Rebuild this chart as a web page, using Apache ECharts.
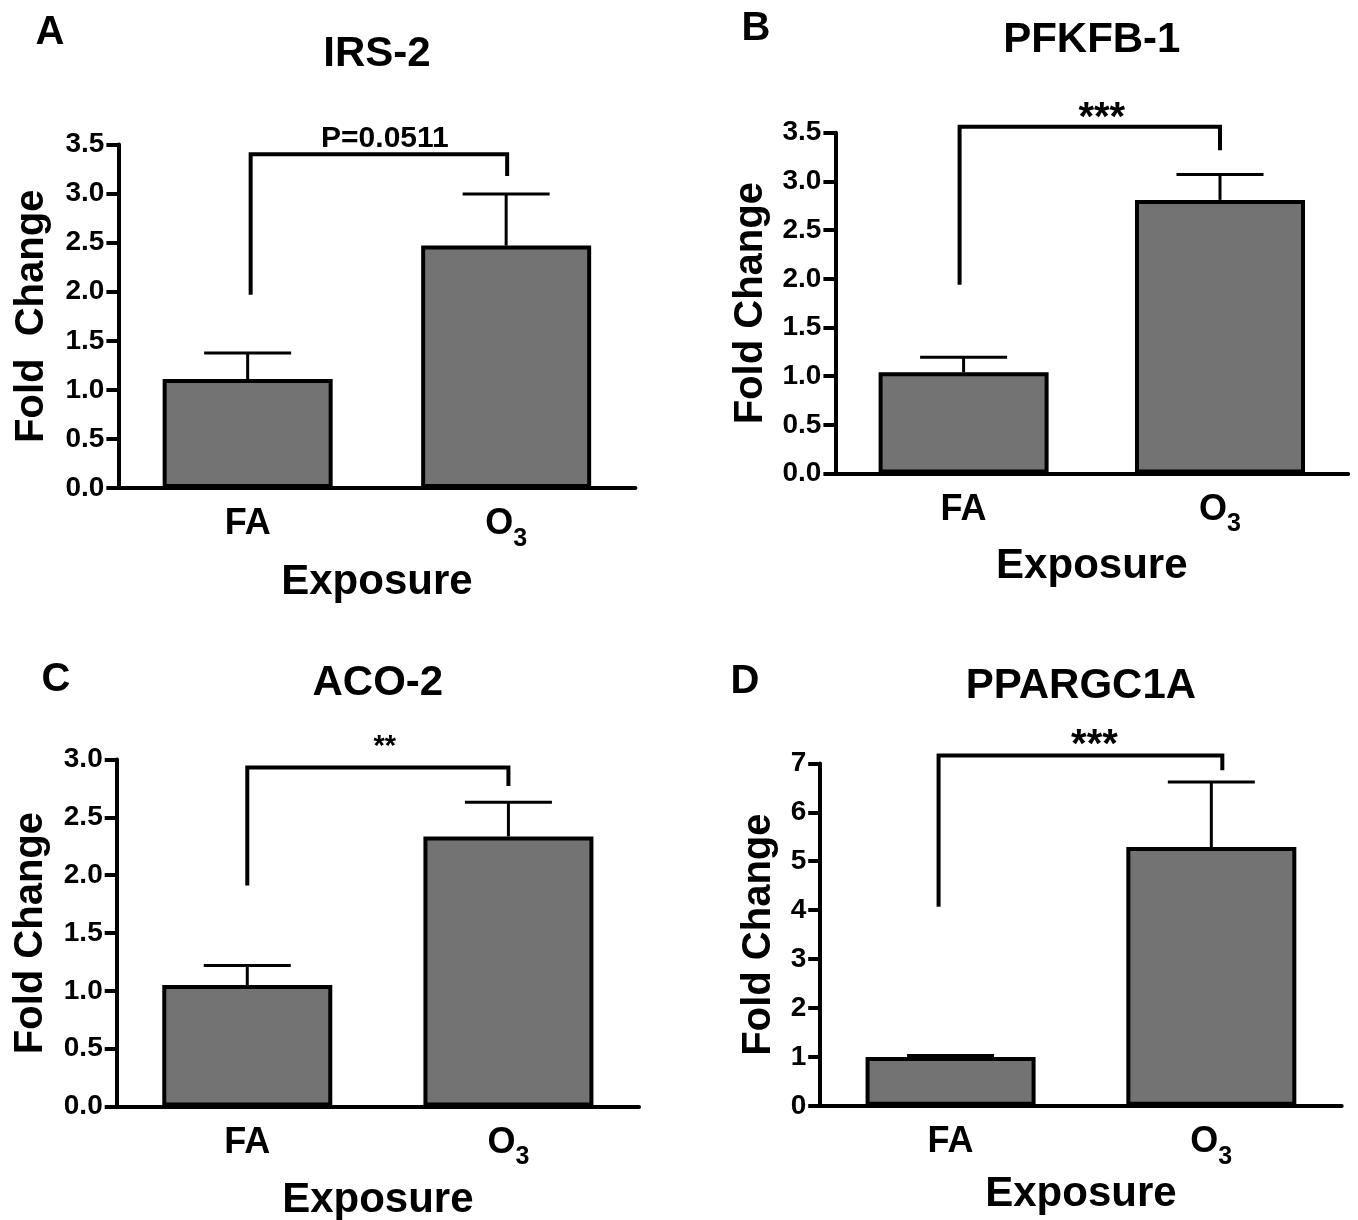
<!DOCTYPE html>
<html>
<head>
<meta charset="utf-8">
<script src="https://cdn.jsdelivr.net/npm/echarts@6/dist/echarts.min.js"></script>
<style>
html,body{margin:0;padding:0;background:#fff;}
#chart{width:1358px;height:1220px;}
</style>
</head>
<body>
<div id="chart"></div>
<script>
// ---------------- data ----------------
const categories = ['FA', 'O3'];
const panelLetters = ['A', 'B', 'C', 'D'];
const panelTitles = ['IRS-2', 'PFKFB-1', 'ACO-2', 'PPARGC1A'];
const yAxisNames = ['Fold  Change', 'Fold Change', 'Fold Change', 'Fold Change'];
const xAxisName = 'Exposure';

const meanA = [1.11, 2.47];
const semA  = [0.265, 0.526];
const meanB = [1.04, 2.81];
const semB  = [0.155, 0.26];
const meanC = [1.05, 2.335];
const semC  = [0.17, 0.295];
const meanD = [1.0, 5.29];
const semD  = [0.03, 1.33];

const yMax      = [3.5, 3.5, 3.0, 7];
const yInterval = [0.5, 0.5, 0.5, 1];
const yDecimals = [1, 1, 1, 0];

const sigLabels = ['P=0.0511', '***', '**', '***'];
// [left foot, top, right foot] in axis units
const bracketA = [1.97, 3.40, 3.18];
const bracketB = [1.94, 3.56, 3.32];
const bracketC = [1.91, 2.93, 2.77];
const bracketD = [4.07, 7.16, 6.86];

const means = [meanA, meanB, meanC, meanD];
const sems = [semA, semB, semC, semD];
const brackets = [bracketA, bracketB, bracketC, bracketD];

// ---------------- layout / style ----------------
const FONT = '"Liberation Sans", Arial, Helvetica, sans-serif';
const grids = [
  {left: 118.4, top: 144.5, width: 517, height: 343.5},
  {left: 835.4, top: 132.7, width: 512.8, height: 340.9},
  {left: 116.7, top: 759.5, width: 522.3, height: 347.1},
  {left: 820.2, top: 763.4, width: 521.5, height: 342.4}
];
const yNameGap = [66, 64, 66, 41];
const xNameGap = [73, 72, 73, 68];
const titleOffset = [90, 92, 76, 77];
const letterPos = [[50, 33], [756, 29], [56, 680], [745, 682]];
const sigStyle = [
  {fontSize: 30, dx: 6, dy: -16},
  {fontSize: 40, dx: 12, dy: -8},
  {fontSize: 29, dx: 7, dy: -21},
  {fontSize: 40, dx: 14, dy: -10}
];
const bracketDx = [[3, 1], [-4, 0], [0, 0], [-12, 11]];

const option = {
  animation: false,
  backgroundColor: '#ffffff',
  title: [],
  grid: [],
  xAxis: [],
  yAxis: [],
  series: []
};

for (let i = 0; i < 4; i++) {
  const g = grids[i];
  option.grid.push({left: g.left, top: g.top, width: g.width, height: g.height, containLabel: false, outerBoundsMode: 'none'});
  option.title.push({
    text: panelTitles[i], left: g.left + g.width / 2, top: g.top - titleOffset[i],
    textAlign: 'center', textVerticalAlign: 'middle', padding: 0,
    textStyle: {fontFamily: FONT, fontWeight: 'bold', fontSize: 42, color: '#000'}
  });
  option.title.push({
    text: panelLetters[i], left: letterPos[i][0], top: letterPos[i][1],
    textAlign: 'center', textVerticalAlign: 'middle', padding: 0,
    textStyle: {fontFamily: FONT, fontWeight: 'bold', fontSize: 40, color: '#000'}
  });

  option.xAxis.push({
    type: 'category', gridIndex: i, data: categories,
    name: xAxisName, nameLocation: 'middle', nameGap: xNameGap[i],
    nameTextStyle: {fontFamily: FONT, fontWeight: 'bold', fontSize: 42, color: '#000'},
    axisLine: {lineStyle: {color: '#000', width: 4}},
    axisTick: {alignWithLabel: true, length: 9, lineStyle: {color: '#000', width: 3}},
    axisLabel: {
      margin: 19, color: '#000',
      formatter: function (v) { return v === 'O3' ? '{o|O}{sub|3}' : '{o|' + v + '}'; },
      rich: {
        o: {fontFamily: FONT, fontWeight: 'bold', fontSize: 36, lineHeight: 34, color: '#000'},
        sub: {fontFamily: FONT, fontWeight: 'bold', fontSize: 25, lineHeight: 34, padding: [30, 0, 0, 0], color: '#000'}
      }
    },
    splitLine: {show: false}
  });
  option.yAxis.push({
    type: 'value', gridIndex: i, min: 0, max: yMax[i], interval: yInterval[i],
    name: yAxisNames[i], nameLocation: 'middle', nameGap: yNameGap[i], nameRotate: 90,
    nameTextStyle: {fontFamily: FONT, fontWeight: 'bold', fontSize: 40, color: '#000'},
    axisLine: {show: true, lineStyle: {color: '#000', width: 4}},
    axisTick: {show: true, length: 12, lineStyle: {color: '#000', width: 4}},
    axisLabel: {
      margin: 14, color: '#000', fontFamily: FONT, fontWeight: 'bold', fontSize: 28,
      formatter: (function (d) { return function (v) { return v.toFixed(d); }; })(yDecimals[i])
    },
    splitLine: {show: false}
  });

  // bars
  option.series.push({
    type: 'bar', xAxisIndex: i, yAxisIndex: i, data: means[i], barWidth: 170,
    itemStyle: {color: '#737373', borderColor: '#000', borderWidth: 4},
    z: 2
  });

  // error bars (upper only)
  const errData = means[i].map(function (m, k) { return [k, m, m + sems[i][k]]; });
  option.series.push({
    type: 'custom', xAxisIndex: i, yAxisIndex: i, data: errData, z: 3,
    encode: {x: 0, y: [1, 2]},
    renderItem: function (params, api) {
      const base = api.coord([api.value(0), api.value(1)]);
      const top = api.coord([api.value(0), api.value(2)]);
      const half = 43.5;
      return {
        type: 'group',
        children: [
          {type: 'line', shape: {x1: base[0], y1: base[1], x2: top[0], y2: top[1]}, style: {stroke: '#000', lineWidth: 3}},
          {type: 'line', shape: {x1: top[0] - half, y1: top[1], x2: top[0] + half, y2: top[1]}, style: {stroke: '#000', lineWidth: 3}}
        ]
      };
    }
  });

  // significance bracket
  const b = brackets[i];
  const ss = sigStyle[i];
  const bdx = bracketDx[i];
  const lbl = sigLabels[i];
  option.series.push({
    type: 'custom', xAxisIndex: i, yAxisIndex: i, z: 4, clip: false,
    data: [[0, 1, b[0], b[1], b[2]]],
    encode: {x: [0, 1], y: [2, 3, 4]},
    renderItem: function (params, api) {
      const lf = api.coord([api.value(0), api.value(2)]);
      const lt = api.coord([api.value(0), api.value(3)]);
      const rt = api.coord([api.value(1), api.value(3)]);
      const rf = api.coord([api.value(1), api.value(4)]);
      const xl = lf[0] + bdx[0], xr = rf[0] + bdx[1];
      return {
        type: 'group',
        children: [
          {type: 'polyline', shape: {points: [[xl, lf[1]], [xl, lt[1]], [xr, rt[1]], [xr, rf[1]]]},
           style: {stroke: '#000', lineWidth: 4, fill: null, lineJoin: 'miter'}},
          {type: 'text', x: (xl + xr) / 2 + ss.dx, y: lt[1] + ss.dy,
           style: {text: lbl, fill: '#000', fontFamily: FONT, fontWeight: 'bold', fontSize: ss.fontSize,
                   textAlign: 'center', textVerticalAlign: 'middle', align: 'center', verticalAlign: 'middle'}}
        ]
      };
    }
  });
}

const chart = echarts.init(document.getElementById('chart'), null, {renderer: 'canvas'});
chart.setOption(option);
</script>
</body>
</html>
